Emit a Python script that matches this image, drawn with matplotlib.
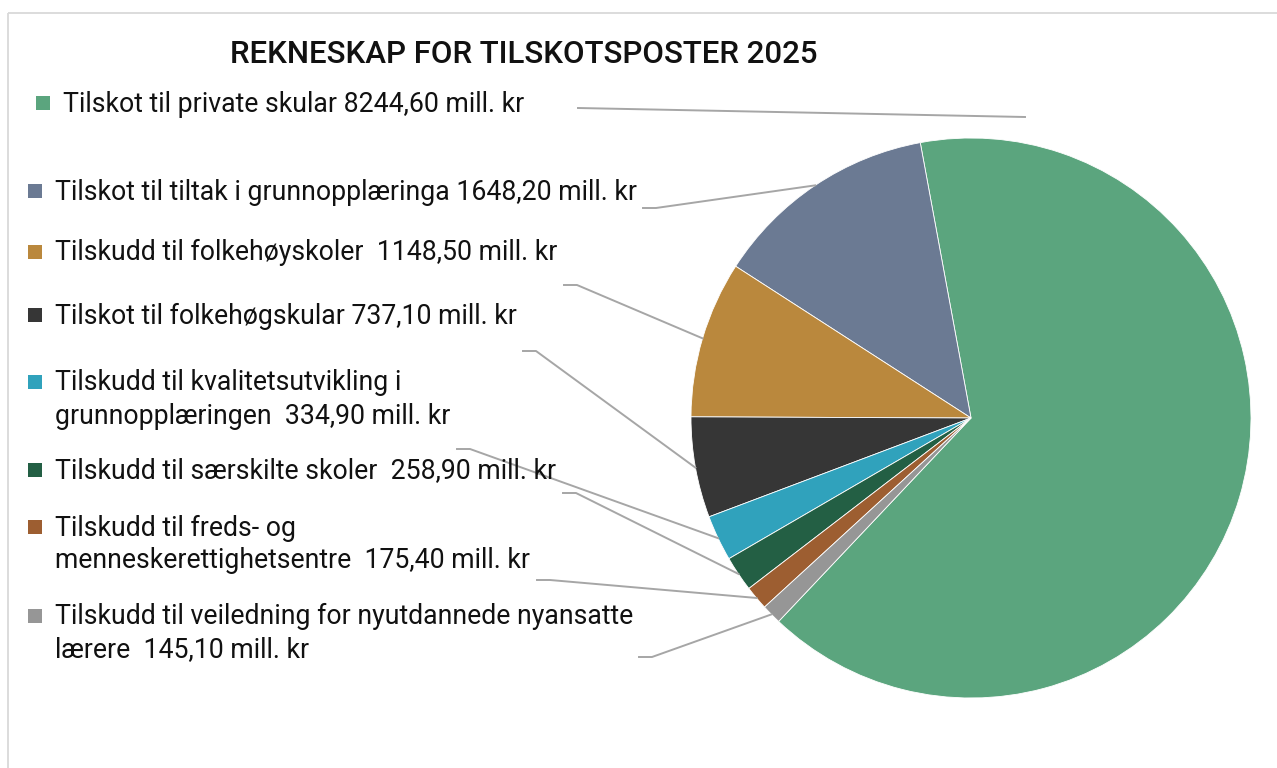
import matplotlib
matplotlib.use('Agg')
import matplotlib.pyplot as plt
from matplotlib.patches import Rectangle
import numpy as np

plt.rcParams['font.family'] = ['Roboto', 'DejaVu Sans']

title = "REKNESKAP FOR TILSKOTSPOSTER 2025"
categories = [
    "Tilskot til private skular",
    "Tilskot til tiltak i grunnopplæringa",
    "Tilskudd til folkehøyskoler",
    "Tilskot til folkehøgskular",
    "Tilskudd til kvalitetsutvikling i\ngrunnopplæringen",
    "Tilskudd til særskilte skoler",
    "Tilskudd til freds- og\nmenneskerettighetsentre",
    "Tilskudd til veiledning for nyutdannede nyansatte\nlærere",
]
separators = [" ", " ", "  ", " ", "  ", "  ", "  ", "  "]
values = [8244.60, 1648.20, 1148.50, 737.10, 334.90, 258.90, 175.40, 145.10]
unit = "mill. kr"
colors = ["#5BA57E", "#6B7A93", "#BA883D", "#363636",
          "#30A2BC", "#235F44", "#9D5E31", "#969696"]

# ---- layout (pixels) ----
W, H = 1277, 768
cx, cy, R = 971, 418, 280
start_angle = -133.4
square_centers = [(42.5, 103), (34.5, 190.5), (34.5, 251.5), (34.5, 314.5),
                  (34.5, 381.5), (34.5, 469.5), (34.5, 526.5), (34.5, 615.5)]
leader_starts = [(578, 108), (643, 208), (564, 285), (523, 351),
                 (457, 449), (563, 493), (537, 580), (639, 657)]
leader_elbow = 13
green_leader_end = (1025, 117)
line_gap = 33
fs = 19.2

fig = plt.figure(figsize=(W / 100, H / 100), dpi=100)
ax = fig.add_axes([(cx - R) / W, (H - cy - R) / H, 2 * R / W, 2 * R / H])
wedges, _ = ax.pie(values, colors=colors, startangle=start_angle, counterclock=True,
                   wedgeprops=dict(edgecolor='white', linewidth=0.6))
ax.set_xlim(-1, 1)
ax.set_ylim(-1, 1)

ov = fig.add_axes([0, 0, 1, 1], zorder=5)
ov.set_xlim(0, W)
ov.set_ylim(H, 0)
ov.axis('off')
ov.patch.set_visible(False)

# border
ov.plot([7.5, 7.5], [H, 12.5], color='#D9D9D9', lw=1.3, solid_capstyle='butt')
ov.plot([7.5, W], [12.5, 12.5], color='#D9D9D9', lw=1.3, solid_capstyle='butt')

ov.text(524, 63, title, fontsize=22.5, fontweight='medium', ha='center', va='baseline',
        color='#111111')

inv = ov.transData.inverted()
for i, (cat, sep, v, col) in enumerate(zip(categories, separators, values, colors)):
    sx, sy = square_centers[i]
    ov.add_patch(Rectangle((sx - 7, sy - 7), 14, 14, facecolor=col, edgecolor='none'))
    label = cat + sep + f"{v:.2f}".replace(".", ",") + " " + unit
    for j, line in enumerate(label.split("\n")):
        ov.text(sx + 20.5, sy + 9 + j * line_gap, line, fontsize=fs, ha='left',
                va='baseline', color='#111111')
    # leader line
    lx, ly = leader_starts[i]
    if i == 0:
        ex, ey = green_leader_end
        ov.plot([lx, ex], [ly, ey], color='#A6A6A6', lw=1.4)
    else:
        w = wedges[i]
        mid = np.deg2rad((w.theta1 + w.theta2) / 2)
        px, py = w.center[0] + w.r * np.cos(mid), w.center[1] + w.r * np.sin(mid)
        ex, ey = inv.transform(ax.transData.transform((px, py)))
        ov.plot([lx, lx + leader_elbow, ex], [ly, ly, ey], color='#A6A6A6', lw=1.4)

fig.savefig("out.png", dpi=100)
